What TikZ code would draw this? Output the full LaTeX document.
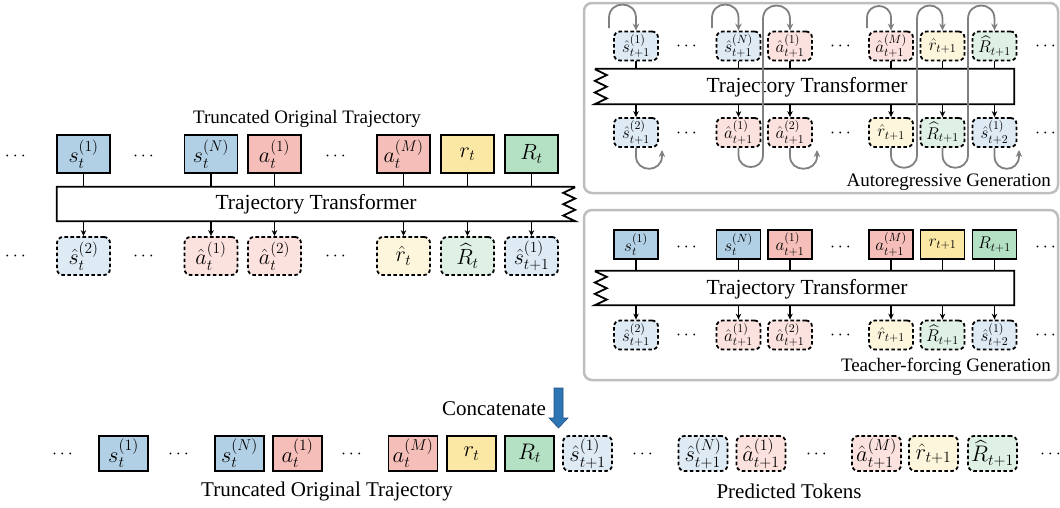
\documentclass[tikz,border=0pt]{standalone}
\usepackage{fix-cm}
\usepackage{amsmath}
\usepackage{fontspec}
\setmainfont{Liberation Serif}
\usetikzlibrary{arrows.meta}
\definecolor{sC}{RGB}{178,208,229}
\definecolor{aC}{RGB}{245,190,185}
\definecolor{rC}{RGB}{252,232,165}
\definecolor{gC}{RGB}{180,224,196}
\definecolor{sL}{RGB}{222,234,244}
\definecolor{aL}{RGB}{252,226,223}
\definecolor{rL}{RGB}{253,246,220}
\definecolor{gL}{RGB}{222,241,228}
\definecolor{grayA}{RGB}{128,128,128}
\definecolor{frameC}{RGB}{190,190,190}
\definecolor{bluA}{RGB}{46,117,182}
\tikzset{
  tok/.style={draw, line width=1.8pt, inner sep=0pt},
  pred/.style={tok, dash pattern=on 3.6pt off 2.4pt, rounded corners=6pt},
  bigb/.style={minimum width=53pt, minimum height=38pt, font=\fontsize{22}{22}\selectfont},
  smlb/.style={minimum width=44pt, minimum height=29pt, font=\fontsize{17}{17}\selectfont},
  midb/.style={minimum width=49pt, minimum height=35pt, font=\fontsize{22.5}{22.5}\selectfont},
  dotsn/.style={inner sep=0pt, font=\fontsize{18}{18}\selectfont},
  tfbox/.style={inner sep=0pt, font=\fontsize{21.5}{21.5}\selectfont},
  lab/.style={inner sep=0pt, font=\fontsize{19}{19}\selectfont},
  labb/.style={inner sep=0pt, font=\fontsize{21}{21}\selectfont},
  outl/.style={line width=1.8pt},
  conn/.style={line width=1.5pt},
  carr/.style={line width=1.5pt, -{Stealth[length=6pt,width=5.5pt]}},
  garr/.style={line width=1.8pt, draw=grayA, -{Stealth[length=7pt,width=6.5pt]}},
  panel/.style={draw=frameC, line width=2.5pt, rounded corners=8pt}
}
\begin{document}
\begin{tikzpicture}[x=1pt,y=-1pt]
\useasboundingbox (0,0) rectangle (1060,507);

% ================= Left section =================
\node[lab] (Ltitle) at (307,119) {Truncated Original Trajectory};
\node[tok,bigb,fill=sC] (L1) at (83.5,154) {$s_t^{(1)}$};
\node[tok,bigb,fill=sC] (L2) at (211,154) {$s_t^{(N)}$};
\node[tok,bigb,fill=aC] (L3) at (274.5,154) {$a_t^{(1)}$};
\node[tok,bigb,fill=aC] (L4) at (403.5,154) {$a_t^{(M)}$};
\node[tok,bigb,fill=rC] (L5) at (467.5,154) {$r_t$};
\node[tok,bigb,fill=gC] (L6) at (531.5,154) {$R_t$};
\node[dotsn] (Ld1) at (17,156) {$\cdots$};
\node[dotsn] (Ld2) at (145,156) {$\cdots$};
\node[dotsn] (Ld3) at (337,156) {$\cdots$};

\node[tfbox, minimum width=518pt, minimum height=34pt] (LT) at (316,204) {Trajectory Transformer};
\draw[outl] (LT.north east) -- (LT.north west) -- (LT.south west) -- (LT.south east)
  -- ++(-12,-5.667) -- ++(12,-5.667) -- ++(-12,-5.667) -- ++(12,-5.667) -- ++(-12,-5.667) -- ++(12,-5.667);

\node[pred,bigb,fill=sL] (LP1) at (83.5,256) {$\hat{s}_t^{(2)}$};
\node[pred,bigb,fill=aL] (LP2) at (211,256) {$\hat{a}_t^{(1)}$};
\node[pred,bigb,fill=aL] (LP3) at (274.5,256) {$\hat{a}_t^{(2)}$};
\node[pred,bigb,fill=rL] (LP4) at (403.5,256) {$\hat{r}_t$};
\node[pred,bigb,fill=gL] (LP5) at (467.5,256) {$\widehat{R}_t$};
\node[pred,bigb,fill=sL] (LP6) at (531.5,256) {$\hat{s}_{t+1}^{(1)}$};
\node[dotsn] (Ld4) at (17,256) {$\cdots$};
\node[dotsn] (Ld5) at (145,256) {$\cdots$};
\node[dotsn] (Ld6) at (337,256) {$\cdots$};

\foreach \i in {1,...,6}{
  \draw[conn] (L\i.south) -- (L\i.south |- LT.north);
  \draw[carr] (LP\i.north |- LT.south) -- (LP\i.north);
}

% ================= Autoregressive panel =================
\draw[panel] (584,3) rectangle (1058,193);
\node[pred,smlb,fill=sL] (A1) at (636,46) {$\hat{s}_{t+1}^{(1)}$};
\node[pred,smlb,fill=sL] (A2) at (738.5,46) {$\hat{s}_{t+1}^{(N)}$};
\node[pred,smlb,fill=aL] (A3) at (790,46) {$\hat{a}_{t+1}^{(1)}$};
\node[pred,smlb,fill=aL] (A4) at (891,46) {$\hat{a}_{t+1}^{(M)}$};
\node[pred,smlb,fill=rL] (A5) at (942.5,46) {$\hat{r}_{t+1}$};
\node[pred,smlb,fill=gL] (A6) at (994.5,46) {$\widehat{R}_{t+1}$};
\node[dotsn] (Ad1) at (688,46) {$\cdots$};
\node[dotsn] (Ad2) at (842,46) {$\cdots$};
\node[dotsn] (Ad3) at (1047,46) {$\cdots$};

\node[tfbox, minimum width=419pt, minimum height=35pt] (AT) at (804.5,86.5) {};
\node[tfbox] (ATt) at (807,87) {Trajectory Transformer};
\draw[outl] (AT.north west) -- (AT.north east) -- (AT.south east) -- (AT.south west)
  -- ++(12,-5.833) -- ++(-12,-5.833) -- ++(12,-5.833) -- ++(-12,-5.833) -- ++(12,-5.833) -- ++(-12,-5.833);

\node[pred,smlb,fill=sL] (B1) at (636,132.5) {$\hat{s}_{t+1}^{(2)}$};
\node[pred,smlb,fill=aL] (B2) at (738.5,132.5) {$\hat{a}_{t+1}^{(1)}$};
\node[pred,smlb,fill=aL] (B3) at (790,132.5) {$\hat{a}_{t+1}^{(2)}$};
\node[pred,smlb,fill=rL] (B4) at (891,132.5) {$\hat{r}_{t+1}$};
\node[pred,smlb,fill=gL] (B5) at (942.5,132.5) {$\widehat{R}_{t+1}$};
\node[pred,smlb,fill=sL] (B6) at (994.5,132.5) {$\hat{s}_{t+2}^{(1)}$};
\node[dotsn] (Ad4) at (688,133) {$\cdots$};
\node[dotsn] (Ad5) at (842,133) {$\cdots$};
\node[dotsn] (Ad6) at (1047,133) {$\cdots$};

\foreach \i in {1,...,6}{
  \draw[conn] (A\i.south) -- (A\i.south |- AT.north);
  \draw[carr] (B\i.north |- AT.south) -- (B\i.north);
}
\node[lab, anchor=east] (ARlab) at (1051,182) {Autoregressive Generation};

% gray feedback loops: top short loops
\draw[garr] (609,28) -- (609,18) .. controls (609,0) and (636,0) .. (636,18) -- (A1.north);
\draw[garr] (712,28) -- (712,18) .. controls (712,0) and (738.5,0) .. (738.5,18) -- (A2.north);
\draw[garr] (867,28) -- (867,18) .. controls (867,2) and (891,2) .. (891,18) -- (A4.north);
% long loops
\draw[garr] (B2.south) -- (738.5,155) .. controls (738.5,171) and (763,171) .. (763,155) -- (763,19) .. controls (763,1) and (790,1) .. (790,19) -- (A3.north);
\draw[garr] (B4.south) -- (891,155) .. controls (891,172) and (917,172) .. (917,155) -- (917,19) .. controls (917,1) and (942.5,1) .. (942.5,19) -- (A5.north);
\draw[garr] (B5.south) -- (942.5,155) .. controls (942.5,172) and (968,172) .. (968,155) -- (968,19) .. controls (968,1) and (994.5,1) .. (994.5,19) -- (A6.north);
% bottom short loops
\draw[garr] (B1.south) -- (636,156) .. controls (636,173) and (662,173) .. (662,156) -- (662,150);
\draw[garr] (B3.south) -- (790,156) .. controls (790,173) and (817,173) .. (817,156) -- (817,150);
\draw[garr] (B6.south) -- (994.5,156) .. controls (994.5,173) and (1019,173) .. (1019,156) -- (1019,150);

% ================= Teacher-forcing panel =================
\draw[panel] (584,210) rectangle (1058,380);
\node[tok,smlb,fill=sC] (T1) at (636,244.5) {$s_t^{(1)}$};
\node[tok,smlb,fill=sC] (T2) at (738.5,244.5) {$s_t^{(N)}$};
\node[tok,smlb,fill=aC] (T3) at (790,244.5) {$a_{t+1}^{(1)}$};
\node[tok,smlb,fill=aC] (T4) at (891,244.5) {$a_{t+1}^{(M)}$};
\node[tok,smlb,fill=rC] (T5) at (942.5,244.5) {$r_{t+1}$};
\node[tok,smlb,fill=gC] (T6) at (994.5,244.5) {$R_{t+1}$};
\node[dotsn] (Td1) at (688,247) {$\cdots$};
\node[dotsn] (Td2) at (842,247) {$\cdots$};
\node[dotsn] (Td3) at (1047,247) {$\cdots$};

\node[tfbox, minimum width=419pt, minimum height=34pt] (TT) at (804.5,288) {};
\node[tfbox] (TTt) at (807,289) {Trajectory Transformer};
\draw[outl] (TT.north west) -- (TT.north east) -- (TT.south east) -- (TT.south west)
  -- ++(12,-5.667) -- ++(-12,-5.667) -- ++(12,-5.667) -- ++(-12,-5.667) -- ++(12,-5.667) -- ++(-12,-5.667);

\node[pred,smlb,fill=sL] (U1) at (636,335) {$\hat{s}_{t+1}^{(2)}$};
\node[pred,smlb,fill=aL] (U2) at (738.5,335) {$\hat{a}_{t+1}^{(1)}$};
\node[pred,smlb,fill=aL] (U3) at (790,335) {$\hat{a}_{t+1}^{(2)}$};
\node[pred,smlb,fill=rL] (U4) at (891,335) {$\hat{r}_{t+1}$};
\node[pred,smlb,fill=gL] (U5) at (942.5,335) {$\widehat{R}_{t+1}$};
\node[pred,smlb,fill=sL] (U6) at (994.5,335) {$\hat{s}_{t+2}^{(1)}$};
\node[dotsn] (Td4) at (688,335) {$\cdots$};
\node[dotsn] (Td5) at (842,335) {$\cdots$};
\node[dotsn] (Td6) at (1047,335) {$\cdots$};

\foreach \i in {1,...,6}{
  \draw[conn] (T\i.south) -- (T\i.south |- TT.north);
  \draw[carr] (U\i.north |- TT.south) -- (U\i.north);
}
\node[lab, anchor=east] (TFlab) at (1051,367) {Teacher-forcing Generation};

% ================= Bottom concatenated row =================
\node[labb] (Cat) at (494,409) {Concatenate};
\fill[bluA, draw=bluA!70!black, line width=0.6pt] (554,388) -- (563,388) -- (563,418) -- (568,418) -- (558.5,428) -- (549,418) -- (554,418) -- cycle;

\node[tok,midb,fill=sC] (C1) at (123.5,453.5) {$s_t^{(1)}$};
\node[tok,midb,fill=sC] (C2) at (239.5,453.5) {$s_t^{(N)}$};
\node[tok,midb,fill=aC] (C3) at (297.5,453.5) {$a_t^{(1)}$};
\node[tok,midb,fill=aC] (C4) at (413,453.5) {$a_t^{(M)}$};
\node[tok,midb,fill=rC] (C5) at (471.5,453.5) {$r_t$};
\node[tok,midb,fill=gC] (C6) at (529.5,453.5) {$R_t$};
\node[pred,midb,fill=sL] (D1) at (587.5,453.5) {$\hat{s}_{t+1}^{(1)}$};
\node[pred,midb,fill=sL] (D2) at (703,453.5) {$\hat{s}_{t+1}^{(N)}$};
\node[pred,midb,fill=aL] (D3) at (761,453.5) {$\hat{a}_{t+1}^{(1)}$};
\node[pred,midb,fill=aL] (D4) at (876.5,453.5) {$\hat{a}_{t+1}^{(M)}$};
\node[pred,midb,fill=rL] (D5) at (933.5,453.5) {$\hat{r}_{t+1}$};
\node[pred,midb,fill=gL] (D6) at (992.5,453.5) {$\widehat{R}_{t+1}$};
\node[dotsn] (Cd1) at (64,454) {$\cdots$};
\node[dotsn] (Cd2) at (180,454) {$\cdots$};
\node[dotsn] (Cd3) at (353,454) {$\cdots$};
\node[dotsn] (Cd4) at (644,454) {$\cdots$};
\node[dotsn] (Cd5) at (818,454) {$\cdots$};
\node[dotsn] (Cd6) at (1052,454) {$\cdots$};

\node[labb] (TOT) at (327,491) {Truncated Original Trajectory};
\node[labb] (PT) at (789,491) {Predicted Tokens};
\end{tikzpicture}
\end{document}
